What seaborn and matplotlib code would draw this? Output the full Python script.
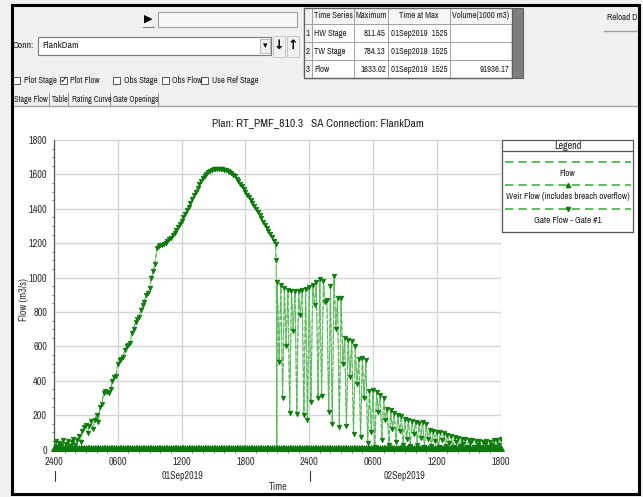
import numpy as np
import pandas as pd
import matplotlib
matplotlib.use("Agg")
import matplotlib.pyplot as plt
import seaborn as sns
from matplotlib import font_manager
from matplotlib.patches import Rectangle
from matplotlib.lines import Line2D
from matplotlib.ticker import MultipleLocator

# ---------------- data ----------------
# rising limb, 10-min steps from 0 h to 9h40
rise_flow = [20, 50, 15, 40, 25, 55,
             10, 35, 50, 20, 45, 60,
             30, 55, 80, 45, 110, 130,
             145, 95, 140, 165, 120, 175,
             200, 160, 250, 265, 330, 340,
             335, 330, 350, 400, 420, 430,
             500, 520, 530, 540, 580, 600,
             610, 620, 680, 700, 740, 760,
             770, 810, 840, 860, 900, 910,
             940, 1000, 1040, 1080, 1170]
# smooth hump, 10-min steps from 9h50 to 20h50
hump_flow = [1183,
             1188, 1192, 1197, 1203, 1212, 1222,
             1233, 1246, 1262, 1278, 1296, 1314,
             1332, 1352, 1372, 1392, 1413, 1434,
             1455, 1478, 1500, 1522, 1542, 1561,
             1577, 1591, 1603, 1613, 1621, 1626,
             1630, 1632, 1633, 1633, 1632, 1630,
             1627, 1624, 1620, 1615, 1608, 1599,
             1589, 1576, 1562, 1547, 1531, 1515,
             1499, 1482, 1466, 1449, 1432, 1415,
             1397, 1380, 1362, 1344, 1326, 1308,
             1289, 1271, 1253, 1234, 1215, 1195]
# sudden drop
drop_hours = [20.9, 20.95]
drop_flow = [1100, 0]
# oscillating gate flow, 10-min steps from 21 h to 33 h
osc_flow = [975, 510, 960, 300, 940, 600,
            930, 215, 925, 690, 920, 210,
            925, 780, 930, 200, 935, 170,
            945, 280, 960, 840, 975, 300,
            990, 310, 980, 860, 870, 220,
            950, 150, 1010, 700, 880, 130,
            880, 500, 650, 140, 640, 420,
            630, 90, 600, 380, 530, 75,
            535, 300, 520, 40, 340, 100,
            345, 15, 335, 220, 320, 55,
            300, 170, 235, 25, 230, 120,
            215, 45, 200, 110, 195, 30,
            180]
# recession tail, 10-min steps from 33h10 to 42 h
tail_flow = [60, 175, 20, 165, 90,
             160, 30, 155, 70, 160, 15,
             150, 60, 115, 20, 110, 50,
             105, 15, 100, 55, 95, 20,
             85, 40, 80, 15, 75, 45,
             70, 20, 65, 35, 60, 15,
             55, 40, 55, 15, 50, 30,
             50, 15, 45, 35, 50, 15,
             45, 30, 55, 15, 55, 30,
             60]
weir_level = 8.0          # weir flow stays near zero the whole time
tick_labels = ["2400", "0600", "1200", "1800", "2400", "0600", "1200", "1800"]
table_rows = [["1", "HW Stage", "811.45", "01Sep2019  1525", ""],
              ["2", "TW Stage", "784.13", "01Sep2019  1525", ""],
              ["3", "Flow", "1633.02", "01Sep2019  1525", "91936.17"]]

hours = np.concatenate([np.arange(len(rise_flow)) / 6,
                        59 / 6 + np.arange(len(hump_flow)) / 6,
                        drop_hours,
                        21 + np.arange(len(osc_flow)) / 6,
                        33 + np.arange(1, len(tail_flow) + 1) / 6])
gate_flow = np.array(rise_flow + hump_flow + drop_flow + osc_flow + tail_flow, float)
gate_df = pd.DataFrame({"hours": hours, "flow": gate_flow})
weir_hours = np.arange(0, 253) / 6
weir_df = pd.DataFrame({"hours": weir_hours, "flow": np.full(len(weir_hours), weir_level)})

# ---------------- fonts ----------------
sns.set_theme(style="white")
names = {f.name for f in font_manager.fontManager.ttflist}
NARROW = "Liberation Sans"
for cand in ["Liberation Sans Narrow", "Arial Narrow", "Archivo Narrow", "PT Sans Narrow",
             "Roboto Condensed", "Pragati Narrow", "Fira Sans Condensed",
             "IBM Plex Sans Condensed", "Open Sans Condensed", "Encode Sans Condensed"]:
    if cand in names:
        NARROW = cand
        break
FAM = [NARROW, "DejaVu Sans"]
plt.rcParams["font.family"] = FAM

W, H = 643, 497
fig = plt.figure(figsize=(W / 100, H / 100), dpi=100)
fig.patch.set_facecolor("#f0f0f0")


def fx(x):
    return x / W


def fy(y):
    return 1 - y / H


def rect(x0, y0, x1, y1, fc="none", ec="none", lw=0.8, z=2):
    fig.add_artist(Rectangle((fx(x0), fy(y1)), (x1 - x0) / W, (y1 - y0) / H,
                             transform=fig.transFigure, facecolor=fc, edgecolor=ec,
                             lw=lw, zorder=z))


def line(x0, y0, x1, y1, color="#808080", lw=0.8, z=3, **kw):
    fig.add_artist(Line2D([fx(x0), fx(x1)], [fy(y0), fy(y1)], transform=fig.transFigure,
                          color=color, lw=lw, zorder=z, **kw))


def txt(x, y, s, size=6.8, ha="left", color="#202020", **kw):
    fig.text(fx(x), fy(y), s, fontsize=size, ha=ha, va="center", color=color,
             family=FAM, zorder=5, **kw)


# white plot panel
rect(12, 106, 638, 493, fc="white", ec="none", z=-5)
line(12, 105.5, 638, 105.5, color="#a0a0a0", lw=1.0)

# ---------------- top controls ----------------
fig.text(fx(148), fy(19), "\u25B6", fontsize=8, ha="center", va="center",
         color="black", family="DejaVu Sans")
line(143, 27, 154, 27, color="#808080", lw=0.8)
rect(158, 12, 297, 27, fc="#f8f8f8", ec="#a0a0a0", lw=0.8)

txt(13, 45, "Conn:", size=7)
rect(38, 37, 271, 55, fc="white", ec="#7a7a7a", lw=0.8)
txt(42, 45.5, "FlankDam", size=7)
rect(260, 39, 270, 53, fc="#eeeeee", ec="#b0b0b0", lw=0.6)
fig.text(fx(265), fy(46), "\u25BE", fontsize=6.5, ha="center", va="center",
         color="black", family="DejaVu Sans")
rect(273, 36, 285, 57, fc="#f0f0f0", ec="#c0c0c0", lw=0.6)
rect(287, 36, 299, 57, fc="#f0f0f0", ec="#c0c0c0", lw=0.6)
fig.text(fx(279), fy(46), "\u2193", fontsize=9, ha="center", va="center",
         color="black", fontweight="bold", family="DejaVu Sans")
fig.text(fx(293), fy(46), "\u2191", fontsize=9, ha="center", va="center",
         color="black", fontweight="bold", family="DejaVu Sans")

checks = [(13, "Plot Stage", False), (60, "Plot Flow", True), (113, "Obs Stage", False),
          (162, "Obs Flow", False), (201, "Use Ref Stage", False)]
for cx, lab, on in checks:
    rect(cx, 77, cx + 7, 84, fc="white", ec="#555555", lw=0.7)
    if on:
        fig.text(fx(cx + 3.6), fy(80.5), "\u2713", fontsize=7, ha="center", va="center",
                 color="black", family="DejaVu Sans", zorder=5)
    txt(cx + 10.5, 80.8, lab, size=6.3)

tabs = [(14, "Stage Flow"), (52, "Table"), (71.5, "Rating Curve"), (113, "Gate Openings")]
for tx, lab in tabs:
    txt(tx, 99, lab, size=5.9)
for sx in [49, 68, 110, 158]:
    line(sx, 93, sx, 105, color="#909090", lw=0.7)

# table
xs = [304, 312, 354, 388, 450, 512]
ys = [8, 24, 42, 60, 78]
rect(304, 8, 512, 78, fc="white", ec="#606060", lw=0.9)
rect(304, 8, 512, 24, fc="#f6f6f6", ec="none", z=2)
rect(304, 8, 312, 78, fc="#f0f0f0", ec="none", z=2)
rect(512, 8, 523, 78, fc="#7f7f7f", ec="#606060", lw=0.8)
for x in xs[1:-1]:
    line(x, 8, x, 78, color="#a0a0a0", lw=0.7)
for y in ys[1:-1]:
    line(304, y, 512, y, color="#a0a0a0", lw=0.7)
rect(304, 8, 512, 78, fc="none", ec="#606060", lw=0.9, z=4)
TS = 6.3
txt(313.5, 16, "Time Series", size=TS)
txt(371, 16, "Maximum", size=TS, ha="center")
txt(419, 16, "Time at Max", size=TS, ha="center")
txt(481, 16, "Volume(1000 m3)", size=TS, ha="center")
for i, (idx, nm, mx, tmax, vol) in enumerate(table_rows):
    yc = (ys[i + 1] + ys[i + 2]) / 2
    txt(306, yc, idx, size=TS)
    txt(314, yc, nm, size=TS)
    txt(386, yc, mx, size=TS, ha="right")
    txt(391, yc, tmax, size=TS)
    if vol:
        txt(509, yc, vol, size=TS, ha="right")

# reload button
txt(607, 18, "Reload D", size=6.4)
line(604, 31, 640, 31, color="#a0a0a0", lw=1.0)

# outer black frame
rect(11.5, 4.5, 638.5, 493.5, fc="none", ec="black", lw=2.2, z=6)

# ---------------- plot ----------------
ax = fig.add_axes([54 / W, 1 - 449.7 / H, 446.6 / W, 309.7 / H])
ax.set_facecolor("white")
LINE_G = "#5cba5c"
MARK_G = "#0a7a0a"
sns.lineplot(data=gate_df, x="hours", y="flow", ax=ax, sort=False, estimator=None,
             color=LINE_G, lw=0.8, linestyle=(0, (4, 2)), zorder=3)
sns.lineplot(data=gate_df, x="hours", y="flow", ax=ax, sort=False, estimator=None,
             color=LINE_G, lw=0.6, linestyle=(0, (5, 1.2)), marker="v",
             markersize=3.3, markerfacecolor=MARK_G, markeredgecolor=MARK_G,
             markeredgewidth=0.5, zorder=4)
sns.lineplot(data=weir_df, x="hours", y="flow", ax=ax, sort=False, estimator=None,
             color=LINE_G, lw=0.8, linestyle=(0, (4, 2)), marker="^",
             markersize=4.2, markerfacecolor=MARK_G, markeredgecolor=MARK_G,
             markeredgewidth=0.6, zorder=4, clip_on=False)

ax.set_xlim(0, 42)
ax.set_ylim(0, 1800)
ax.set_xticks(range(0, 43, 6))
ax.set_xticklabels(tick_labels)
ax.set_yticks(range(0, 1801, 200))
ax.yaxis.set_minor_locator(MultipleLocator(50))
ax.xaxis.set_minor_locator(MultipleLocator(1))
ax.grid(True, which="major", color="#d4d4d4", lw=1.0)
ax.set_axisbelow(True)
for s in ["top", "right"]:
    ax.spines[s].set_visible(False)
for s in ["left", "bottom"]:
    ax.spines[s].set_color("#555555")
    ax.spines[s].set_linewidth(0.9)
ax.tick_params(axis="both", which="major", labelsize=7.4, colors="#333333",
               length=3, width=0.8, direction="out", pad=2)
ax.tick_params(axis="both", which="minor", length=1.8, width=0.6, colors="#555555",
               direction="out", left=True, bottom=True)
ax.set_xlabel("")
ax.set_ylabel("")

txt(318, 123, "Plan: RT_PMF_810.3   SA Connection: FlankDam", size=8.3, ha="center")
fig.text(fx(24), fy(300), "Flow (m3/s)", rotation=90, fontsize=7.2, ha="center",
         va="center", color="#333333", family=FAM)
txt(182, 476, "01Sep2019", size=7.2, ha="center", color="#333333")
txt(405, 476, "02Sep2019", size=7.2, ha="center", color="#333333")
line(55, 471, 55, 481, color="#333333", lw=0.8)
line(310, 471, 310, 481, color="#333333", lw=0.8)
txt(278, 487, "Time", size=7.2, ha="center", color="#333333")

# legend box
rect(502, 140, 633, 232, fc="white", ec="#555555", lw=0.9, z=3)
line(502, 151, 633, 151, color="#555555", lw=0.9, z=4)
txt(567.5, 146, "Legend", size=7.2, ha="center")
for ly, lab, mk in [(162, "Flow", None), (185, "Weir Flow (includes breach overflow)", "^"),
                    (209, "Gate Flow - Gate #1", "v")]:
    line(505, ly, 631, ly, color="#44b044", lw=1.2, z=4, linestyle=(0, (5, 3)))
    if mk:
        fig.add_artist(Line2D([fx(567.5)], [fy(ly)], transform=fig.transFigure,
                              marker=mk, markersize=3, color=MARK_G, lw=0, zorder=5))
    txt(567.5, ly + 11.5, lab, size=6.6, ha="center")

fig.savefig("out.png", dpi=100, facecolor=fig.get_facecolor())
